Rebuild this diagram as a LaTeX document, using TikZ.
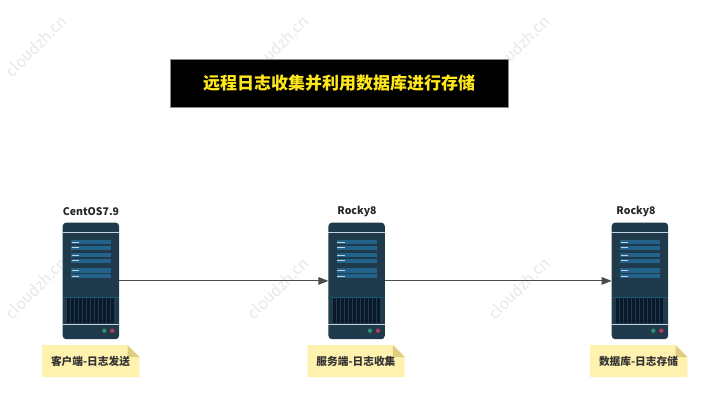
\documentclass[tikz,border=0pt]{standalone}
\usepackage{fontspec}
\setmainfont{Noto Sans CJK SC}
\usetikzlibrary{arrows.meta}
\definecolor{srvbody}{HTML}{1F3A4A}
\definecolor{srvpanel}{HTML}{23628A}
\definecolor{srvline}{HTML}{C4D2DC}
\definecolor{srvteal}{HTML}{155A73}
\definecolor{srvgrille}{HTML}{0B1A2A}
\definecolor{notebg}{HTML}{FFF2AE}
\definecolor{notefold}{HTML}{E0CE80}
\definecolor{titleyellow}{HTML}{FFE81A}
\definecolor{wm}{HTML}{E8E8E8}
\definecolor{ledgreen}{HTML}{2E9070}
\definecolor{ledred}{HTML}{B83A5C}
\tikzset{
  x=1pt,y=-1pt,
  body/.style={draw=none,fill=srvbody,rounded corners=3.5pt,minimum width=56.4pt,minimum height=116.6pt,inner sep=0pt,outer sep=0pt},
  srvname/.style={font=\bfseries\fontsize{10.5}{12}\selectfont,text=black!85,inner sep=0pt},
  notetext/.style={font=\bfseries\fontsize{10.7}{12}\selectfont,text=black!80,inner sep=0pt},
  watermark/.style={font=\fontsize{15.5}{18}\selectfont,text=wm,rotate=45,inner sep=0pt},
  link/.style={draw=black!70,line width=1pt,-{Triangle[length=10pt,width=7.5pt]}},
}
\newcommand{\serverpic}[6]{% x-left, name, label, node id, note-left, name centre
  \node[body,anchor=north west] (#4) at (#1,222.6) {};
  \begin{scope}[shift={(#1,0)}]
    \fill[srvline] (0,232.1) rectangle (56.4,233.3);
    \fill[srvteal] (0,296.8) rectangle (56.4,297.5);
    \fill[srvline] (0,323.5) rectangle (56.4,324.7);
    \foreach \ya/\yb in {240/244.3,245.7/250,253/257.3,258.7/263,268.3/272.7,274/278.3}{
      \fill[srvpanel] (8.3,\ya) rectangle (48.3,\yb);
      \fill[srvline] (9,{(\ya+\yb)/2-0.6}) rectangle (16.6,{(\ya+\yb)/2+0.6});
    }
    \foreach \i in {0,...,11}{
      \fill[srvgrille] ({4.5+\i*4},298.3) rectangle ({7.5+\i*4},322.7);
    }
    \fill[ledgreen] (41.6,330.7) circle (2.2pt);
    \fill[ledred] (49.6,330.7) circle (2.2pt);
  \end{scope}
  \node[srvname] (#4name) at (#6,211.6) {#2};
  \fill[notebg] (#5,345) -- (#5+85.5,345) -- (#5+97.3,357) -- (#5+97.3,377) -- (#5,377) -- cycle;
  \fill[notefold] (#5+85.5,345) -- (#5+97.3,357) -- (#5+85.5,357) -- cycle;
  \node[notetext] (#4note) at (#5+48.5,361.3) {#3};
}
\begin{document}
\begin{tikzpicture}
\useasboundingbox (0,0) rectangle (719,405);
\fill[white] (0,0) rectangle (719,405);
\node[watermark] (w1) at (36,46) {cloudzh.cn};
\node[watermark] (w2) at (278,46) {cloudzh.cn};
\node[watermark] (w3) at (519,46) {cloudzh.cn};
\node[watermark] (w4) at (36,288) {cloudzh.cn};
\node[watermark] (w5) at (278,288) {cloudzh.cn};
\node[watermark] (w6) at (519,288) {cloudzh.cn};
\node[fill=black,draw=black!45,line width=0.4pt,minimum width=338.5pt,minimum height=47.5pt,inner sep=0pt,
  font=\bfseries\fontsize{17}{20}\selectfont,text=titleyellow] (title) at (339.2,83.3) {远程日志收集并利用数据库进行存储};
\serverpic{62.7}{CentOS7.9}{客户端-日志发送}{s1}{42}{91}
\serverpic{328.4}{Rocky8}{服务端-日志收集}{s2}{307.4}{357}
\serverpic{611.7}{Rocky8}{数据库-日志存储}{s3}{590}{636}
\draw[link] (s1.east) -- (s2.west);
\draw[link] (s2.east) -- (s3.west);
\end{tikzpicture}
\end{document}
